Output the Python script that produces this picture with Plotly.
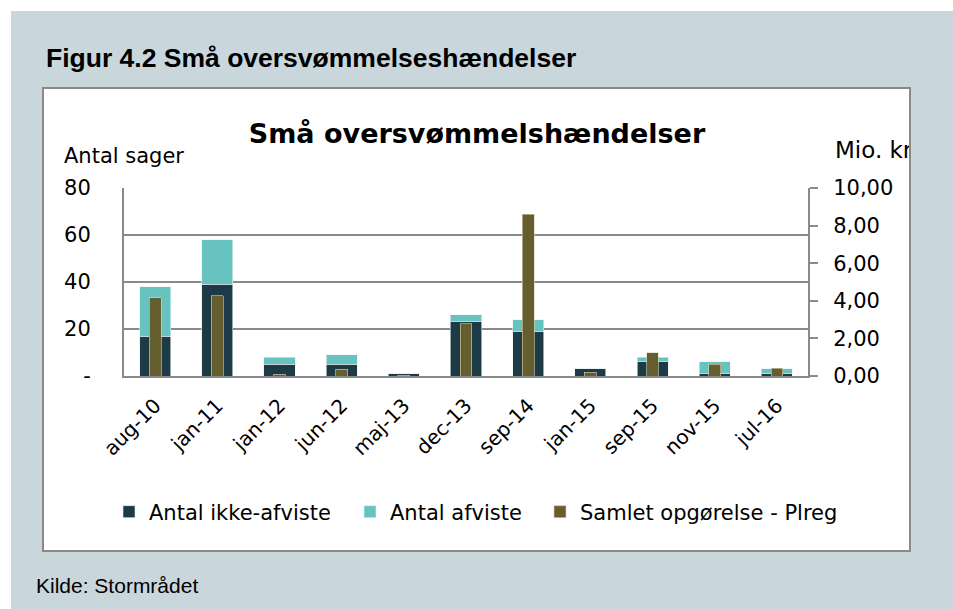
import plotly.graph_objects as go

categories = ["aug-10", "jan-11", "jan-12", "jun-12", "maj-13", "dec-13",
              "sep-14", "jan-15", "sep-15", "nov-15", "jul-16"]
antal_ikke_afviste = [17, 39, 5, 5, 1, 23, 19, 3, 6, 1, 1]
antal_afviste = [21, 19, 3, 4, 0, 3, 5, 0, 2, 5, 2]
samlet_opgorelse = [4.15, 4.28, 0.10, 0.37, 0.03, 2.77, 8.61, 0.20, 1.25, 0.62, 0.41]

left_tickvals = [0, 20, 40, 60, 80]
left_ticktext = ["-", "20", "40", "60", "80"]

W, H = 953, 609
L, R, T, B = 124, 808, 188, 376


def px(X):
    return (X - L) / (R - L)


def py(Y):
    return (B - Y) / (B - T)


FONT = "DejaVu Sans"
GRAY = "#8a8a8a"
DARK = "#1c3b47"
TEAL = "#67c3c0"
OLIVE = "#655f2f"
BG = "#c9d7dd"

fig = go.Figure()
fig.add_trace(go.Bar(x=categories, y=antal_ikke_afviste, name="Antal ikke-afviste",
                     marker=dict(color=DARK, line=dict(color="#e8f0f0", width=0.6)),
                     legend="legend"))
fig.add_trace(go.Bar(x=categories, y=antal_afviste, name="Antal afviste",
                     marker=dict(color=TEAL, line=dict(color="#e8f0f0", width=0.6)),
                     legend="legend2"))
fig.add_trace(go.Bar(x=categories, y=samlet_opgorelse, name="Samlet opgørelse - Plreg",
                     marker=dict(color=OLIVE, line=dict(color="#d8d4b8", width=0.6)),
                     width=0.19, yaxis="y2", legend="legend3"))

shapes = [
    dict(type="rect", xref="paper", yref="paper", x0=px(11), x1=px(975), y0=py(11), y1=py(630),
         fillcolor=BG, line=dict(width=0), layer="below"),
    dict(type="rect", xref="paper", yref="paper", x0=px(43), x1=px(910), y0=py(88), y1=py(551),
         fillcolor="white", line=dict(color=GRAY, width=2), layer="below"),
]

annotations = [
    dict(text="<b>Figur 4.2 Små oversvømmelseshændelser</b>", xref="paper", yref="paper",
         x=px(44), y=py(58), xanchor="left", yanchor="middle", showarrow=False,
         font=dict(family="Liberation Sans", size=26.5, color="black")),
    dict(text="Kilde: Stormrådet", xref="paper", yref="paper",
         x=px(34), y=py(585), xanchor="left", yanchor="middle", showarrow=False,
         font=dict(family="Liberation Sans", size=21, color="black")),
    dict(text="Antal sager", xref="paper", yref="paper",
         x=px(62), y=py(156), xanchor="left", yanchor="middle", showarrow=False,
         font=dict(family=FONT, size=21, color="black")),
    dict(text="Mio. kr", xref="paper", yref="paper", width=74, align="left",
         x=px(833), y=py(150), xanchor="left", yanchor="middle", showarrow=False,
         font=dict(family=FONT, size=23, color="black")),
]

legend_common = dict(orientation="h", yanchor="middle", xanchor="left",
                     font=dict(family=FONT, size=21, color="black"),
                     bgcolor="rgba(0,0,0,0)", borderwidth=0)

fig.update_layout(
    width=W, height=H,
    margin=dict(l=L, r=W - R, t=T, b=H - B, autoexpand=False),
    paper_bgcolor="white", plot_bgcolor="white",
    barmode="stack", bargap=0.5,
    separators=",.",
    showlegend=True,
    title=dict(text="<b>Små oversvømmelshændelser</b>", xref="paper",
               x=px(477), xanchor="center",
               y=1 - 134 / H, yanchor="middle",
               font=dict(family=FONT, size=27, color="black")),
    xaxis=dict(type="category", showline=True, linecolor=GRAY, linewidth=2,
               ticks="", tickangle=-45, showgrid=False, ticklabelstandoff=8,
               tickfont=dict(family=FONT, size=20, color="black")),
    yaxis=dict(range=[0, 80], tickvals=left_tickvals, ticktext=left_ticktext,
               showline=True, linecolor=GRAY, linewidth=2, ticks="",
               showgrid=True, gridcolor=GRAY, gridwidth=1.5, zeroline=False,
               ticklabelstandoff=27,
               tickfont=dict(family=FONT, size=21, color="black")),
    yaxis2=dict(range=[0, 10], dtick=2, tickformat=".2f", overlaying="y", side="right",
                showline=True, linecolor=GRAY, linewidth=2, ticks="outside",
                ticklen=8, tickwidth=1.5, tickcolor=GRAY, showgrid=False, zeroline=False,
                ticklabelstandoff=11,
                tickfont=dict(family=FONT, size=21, color="black")),
    legend=dict(x=px(109), y=py(512), **legend_common),
    legend2=dict(x=px(350), y=py(512), **legend_common),
    legend3=dict(x=px(540), y=py(512), **legend_common),
    shapes=shapes,
    annotations=annotations,
)

fig.write_html("out.html", config={"displayModeBar": False},
               post_script="document.body.style.margin='0';document.body.style.overflow='hidden';")
